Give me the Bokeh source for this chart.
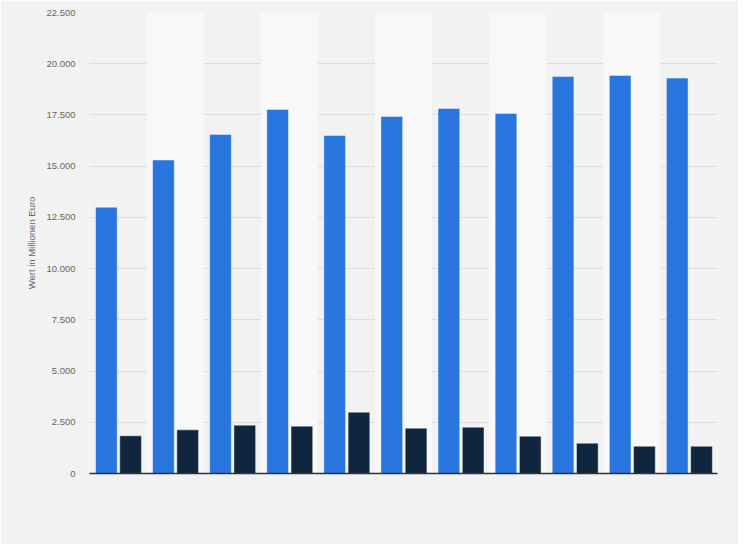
from bokeh.plotting import figure
from bokeh.models import Range1d, ColumnDataSource
from bokeh.transform import dodge
from bokeh.embed import file_html
from bokeh.resources import INLINE

# Data (million euro)
groups = list(range(11))
series_a = [13000, 15300, 16550, 17770, 16500, 17430, 17820, 17575, 19380, 19430, 19300]
series_b = [1840, 2130, 2360, 2310, 2995, 2210, 2260, 1820, 1480, 1330, 1330]
y_ticks = [0, 2500, 5000, 7500, 10000, 12500, 15000, 17500, 20000, 22500]
y_tick_labels = ["0", "2.500", "5.000", "7.500", "10.000", "12.500", "15.000", "17.500", "20.000", "22.500"]
y_label = "Wert in Millionen Euro"

BG = "#f2f2f2"
BAND = "#f8f8f8"
BLUE = "#2876dd"
DARK = "#0f263e"
FONT = "Liberation Sans"

p = figure(width=738, height=544, output_backend="svg", toolbar_location=None,
           x_range=Range1d(-0.5, len(groups) - 0.5), y_range=Range1d(0, y_ticks[-1]),
           min_border_left=89, min_border_right=21, min_border_top=12, min_border_bottom=71)
p.background_fill_color = BG
p.border_fill_color = BG
p.outline_line_color = None

# alternating background bands
band_x = [g for g in groups if g % 2 == 1]
p.vbar(x=band_x, width=1.0, top=y_ticks[-1], bottom=0, fill_color=BAND, line_color=None)

src = ColumnDataSource(dict(x=groups, a=series_a, b=series_b))
p.vbar(x=dodge("x", -0.205, range=p.x_range), top="a", width=0.38, source=src,
       fill_color=BLUE, line_color="white", line_alpha=0.45, line_width=1)
p.vbar(x=dodge("x", 0.22, range=p.x_range), top="b", width=0.38, source=src,
       fill_color=DARK, line_color="white", line_alpha=0.45, line_width=1)

# grid
p.xgrid.grid_line_color = None
p.ygrid.ticker = y_ticks
p.ygrid.grid_line_color = "#c8c8c8"
p.ygrid.grid_line_dash = "1 1"
p.ygrid.grid_line_width = 1

# y axis
p.yaxis.ticker = y_ticks
p.yaxis.major_label_overrides = {t: l for t, l in zip(y_ticks, y_tick_labels)}
p.yaxis.axis_line_color = None
p.yaxis.major_tick_line_color = None
p.yaxis.minor_tick_line_color = None
p.yaxis.major_tick_out = 0
p.yaxis.major_tick_in = 0
p.yaxis.major_label_text_font = FONT
p.yaxis.major_label_text_font_size = "9.5px"
p.yaxis.major_label_text_color = "#666666"
p.yaxis.major_label_standoff = 14
p.yaxis.axis_label = y_label
p.yaxis.axis_label_text_font = FONT
p.yaxis.axis_label_text_font_size = "9.5px"
p.yaxis.axis_label_text_font_style = "normal"
p.yaxis.axis_label_text_color = "#666666"
p.yaxis.axis_label_standoff = 6

# x axis: only the base line
p.xaxis.ticker = []
p.xaxis.major_label_text_font_size = "0px"
p.xaxis.axis_line_color = "#333333"
p.xaxis.axis_line_width = 1.5
p.xaxis.major_tick_line_color = None
p.xaxis.minor_tick_line_color = None

html = file_html(p, INLINE)
html = html.replace("<body>", '<body style="background:#f2f2f2">', 1)
open("out.html", "w").write(html)
